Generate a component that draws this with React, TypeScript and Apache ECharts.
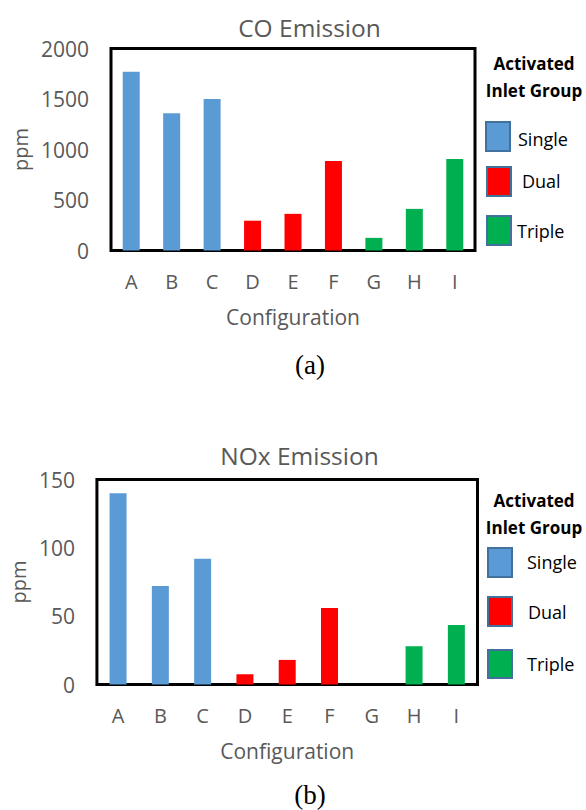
import React, { useEffect, useRef } from "react";
import * as echarts from "echarts";

const categories = ["A", "B", "C", "D", "E", "F", "G", "H", "I"];
const categoryGroup = [0, 0, 0, 1, 1, 1, 2, 2, 2];
const groups = ["Single", "Dual", "Triple"];
const groupColors = ["#5B9BD5", "#FF0000", "#00B050"];
const coValues = [1770, 1360, 1500, 295, 363, 886, 125, 412, 906];
const noxValues = [140, 72, 92, 7.5, 18, 56, 0, 28, 43.5];
const coAxis = { min: 0, max: 2000, interval: 500 };
const noxAxis = { min: 0, max: 150, interval: 50 };
const titles = ["CO Emission", "NOx Emission"];
const captions = ["(a)", "(b)"];
const legendTitle = ["Activated", "Inlet Group"];

const FONT = "'Open Sans', 'Noto Sans', sans-serif";
const GREY = "#595959";

function txt(x: number, y: number, text: string, font: string, fill: string, align = "center") {
  return {
    type: "text",
    x,
    y,
    silent: true,
    style: {
      text,
      font,
      fill,
      textAlign: align,
      textVerticalAlign: "middle",
      align,
      verticalAlign: "middle",
    },
  };
}

function legendBlock(
  headX: number,
  headY: number[],
  swatches: { x: number; y: number; w: number; h: number }[],
  labels: { x: number; y: number }[]
) {
  const els: any[] = [];
  els.push(txt(headX, headY[0], legendTitle[0], `bold 17px ${FONT}`, "#000"));
  els.push(txt(headX, headY[1], legendTitle[1], `bold 17px ${FONT}`, "#000"));
  groups.forEach((g, i) => {
    const s = swatches[i];
    els.push({
      type: "rect",
      silent: true,
      shape: { x: s.x, y: s.y, width: s.w, height: s.h },
      style: { fill: groupColors[i], stroke: "#41719C", lineWidth: 2 },
    });
    els.push(txt(labels[i].x, labels[i].y, g, `18px ${FONT}`, "#000", "left"));
  });
  return els;
}

export default function App() {
  const ref = useRef<HTMLDivElement>(null);
  useEffect(() => {
    if (!ref.current) return;
    const chart = echarts.init(ref.current, undefined, { renderer: "svg" });
    const grids = [
      { left: 111, top: 48.5, width: 364, height: 202 },
      { left: 91, top: 479.5, width: 386.5, height: 205 },
    ];
    const mkData = (vals: number[]) =>
      vals.map((v, i) => ({ value: v, itemStyle: { color: groupColors[categoryGroup[i]] } }));
    const axisDefs = [coAxis, noxAxis];
    const option: any = {
      animation: false,
      backgroundColor: "#fff",
      grid: grids.map((g) => ({
        ...g,
        show: true,
        borderColor: "#000",
        borderWidth: 3,
        backgroundColor: "transparent",
        containLabel: false,
      })),
      xAxis: [0, 1].map((i) => ({
        type: "category",
        gridIndex: i,
        data: categories,
        name: "Configuration",
        nameLocation: "middle",
        nameGap: 56,
        nameTextStyle: { fontFamily: FONT, fontSize: 21, color: GREY },
        axisLine: { show: false },
        axisTick: { show: false },
        axisLabel: { fontFamily: FONT, fontSize: 20, color: GREY, margin: 21 },
        splitLine: { show: false },
      })),
      yAxis: [0, 1].map((i) => ({
        type: "value",
        gridIndex: i,
        ...axisDefs[i],
        name: "ppm",
        nameLocation: "middle",
        nameRotate: 90,
        nameGap: i === 0 ? 77 : 68,
        nameTextStyle: { fontFamily: FONT, fontSize: 20, color: GREY },
        axisLine: { show: false },
        axisTick: { show: false },
        splitLine: { show: false },
        axisLabel: {
          fontFamily: FONT,
          fontSize: 21,
          color: GREY,
          margin: 22,
          formatter: (v: number) => String(v),
        },
      })),
      series: [
        {
          type: "bar",
          xAxisIndex: 0,
          yAxisIndex: 0,
          barWidth: 17,
          data: mkData(coValues),
        },
        {
          type: "bar",
          xAxisIndex: 1,
          yAxisIndex: 1,
          barWidth: 17,
          data: mkData(noxValues),
        },
      ],
      graphic: [
        txt(309.5, 27, titles[0], `24.5px ${FONT}`, GREY),
        txt(299.5, 455, titles[1], `24.5px ${FONT}`, GREY),
        txt(310, 365, captions[0], `27px 'Liberation Serif', 'DejaVu Serif', serif`, "#000"),
        txt(310, 795, captions[1], `27px 'Liberation Serif', 'DejaVu Serif', serif`, "#000"),
        ...legendBlock(
          534,
          [63, 90],
          [
            { x: 486, y: 122, w: 24, h: 29 },
            { x: 487, y: 167, w: 24, h: 29 },
            { x: 487, y: 216, w: 24, h: 29 },
          ],
          [
            { x: 518, y: 139 },
            { x: 522, y: 181 },
            { x: 517, y: 231 },
          ]
        ),
        ...legendBlock(
          534,
          [500, 527],
          [
            { x: 488, y: 548, w: 24, h: 29 },
            { x: 488, y: 597, w: 24, h: 29 },
            { x: 488, y: 650, w: 24, h: 28 },
          ],
          [
            { x: 527, y: 562 },
            { x: 528, y: 612 },
            { x: 527, y: 664 },
          ]
        ),
      ],
    };
    chart.setOption(option);
    return () => chart.dispose();
  }, []);
  return (
    <div
      ref={ref}
      style={{ position: "absolute", left: 0, top: 0, width: 586, height: 810, background: "#fff" }}
    />
  );
}
